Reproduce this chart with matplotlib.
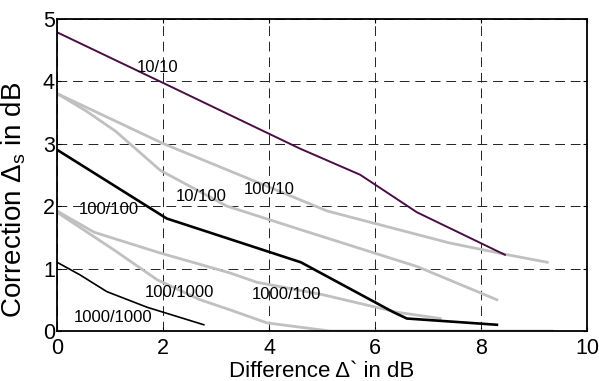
import matplotlib
matplotlib.use('Agg')
import matplotlib.pyplot as plt

plt.rcParams['font.family'] = ['Liberation Sans', 'DejaVu Sans']
plt.rcParams['mathtext.fontset'] = 'custom'
plt.rcParams['mathtext.rm'] = 'Liberation Sans'
plt.rcParams['mathtext.it'] = 'Liberation Sans:italic'

# curves: (difference, correction)
x_10_10 = [0, 2, 4.58, 5.72, 6.79, 8.45]
y_10_10 = [4.78, 3.97, 2.92, 2.5, 1.9, 1.22]

x_100_10 = [0, 2, 5.1, 7.4, 8.5, 9.25]
y_100_10 = [3.8, 3.0, 1.92, 1.41, 1.22, 1.1]

x_10_100 = [0, 0.55, 1.1, 1.95, 3.2, 4.6, 6.8, 8.3]
y_10_100 = [3.8, 3.52, 3.2, 2.57, 2.0, 1.62, 1.03, 0.5]

x_100_100 = [0, 2.07, 4.6, 6.35, 6.6, 8.3]
y_100_100 = [2.9, 1.8, 1.1, 0.3, 0.2, 0.1]

x_1000_100 = [0, 0.7, 1.94, 3.26, 3.77, 5.02, 6.42, 7.23]
y_1000_100 = [1.92, 1.58, 1.25, 0.93, 0.78, 0.58, 0.3, 0.2]

x_100_1000 = [0, 1.07, 1.89, 2.7, 3.26, 3.96, 5.15, 9.34]
y_100_1000 = [1.9, 1.3, 0.82, 0.5, 0.34, 0.13, 0.0, 0.0]

x_1000_1000 = [0, 0.43, 0.94, 1.7, 2.77]
y_1000_1000 = [1.1, 0.9, 0.63, 0.38, 0.1]

labels = ['10/10', '10/100', '100/10', '100/100', '100/1000', '1000/100', '1000/1000']
label_x = [1.9, 2.72, 4.0, 0.97, 2.31, 4.33, 1.05]
label_y = [4.22, 2.16, 2.26, 1.94, 0.62, 0.58, 0.21]

fig = plt.figure(figsize=(5.99, 3.81), dpi=100)
ax = fig.add_axes([0.0952, 0.1312, 0.8848, 0.8202])

gray = '#c0c0c0'
ax.plot(x_100_10, y_100_10, color=gray, lw=2)
ax.plot(x_10_100, y_10_100, color=gray, lw=2)
ax.plot(x_1000_100, y_1000_100, color=gray, lw=2)
ax.plot(x_100_1000, y_100_1000, color=gray, lw=2)
ax.plot(x_10_10, y_10_10, color='#4a0e45', lw=1.4)
ax.plot(x_100_100, y_100_100, color='k', lw=1.9)
ax.plot(x_1000_1000, y_1000_1000, color='k', lw=1.2)

for t, lx, ly in zip(labels, label_x, label_y):
    ax.text(lx, ly, t, fontsize=12, ha='center', va='center')

ax.set_xlim(0, 10)
ax.set_ylim(0, 5)
ax.set_xticks([0, 2, 4, 6, 8, 10])
ax.set_yticks([0, 1, 2, 3, 4, 5])
ax.grid(True, color='#222222', lw=0.7, linestyle=(0, (10, 6)))
ax.tick_params(direction='in', top=True, right=True, length=3, labelsize=15.5)
ax.tick_params(axis='x', pad=5)
ax.tick_params(axis='y', pad=1.5)
for s in ax.spines.values():
    s.set_linewidth(1.3)

ax.set_xlabel('Difference \u0394` in dB', fontsize=16, labelpad=1.5)
ax.set_ylabel('Correction $\u0394_\\mathrm{s}$ in dB', fontsize=20)
ax.yaxis.set_label_coords(-0.055, 0.42)

plt.savefig('out.png', dpi=100)
